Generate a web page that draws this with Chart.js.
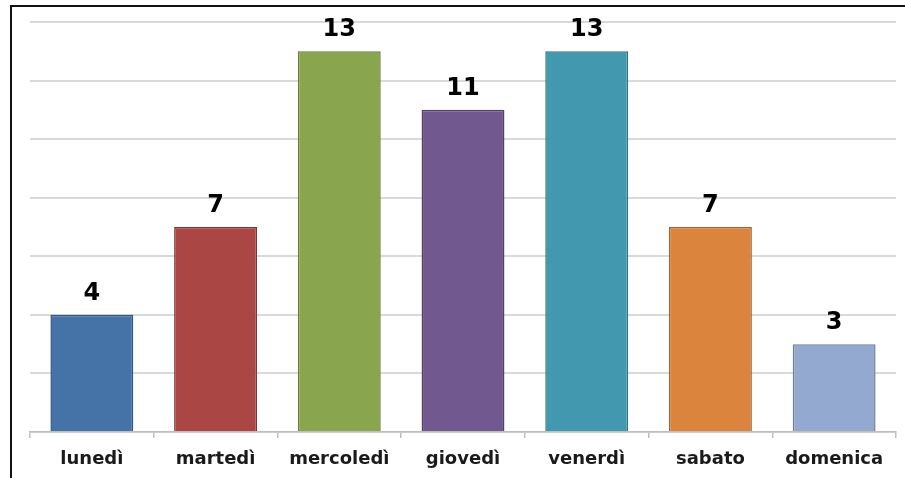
<!DOCTYPE html>
<html><head><meta charset="utf-8">
<script src="https://cdn.jsdelivr.net/npm/chart.js@4/dist/chart.umd.min.js"></script>
<style>
html,body{margin:0;padding:0;background:#fff;width:905px;height:478px;overflow:hidden;}
#frame{position:absolute;left:10px;top:5px;width:900px;height:480px;border-left:2px solid #111;border-top:2px solid #111;}
canvas{position:absolute;left:0;top:0;}
</style></head><body>
<div id="frame"></div>
<canvas id="c" width="905" height="478"></canvas>
<script>
const categories = ["lunedì","martedì","mercoledì","giovedì","venerdì","sabato","domenica"];
const values = [4,7,13,11,13,7,3];
const barColors = ["#4572A7","#AA4643","#89A54E","#71588F","#4198AF","#DB843D","#93A9CF"];
const borderColors = ["#2f5580","#7f3230","#66803a","#54416b","#2f7286","#a66229","#6f809f"];

const labelPlugin = {
  id:'vlabels',
  afterDatasetsDraw(chart){
    const ctx = chart.ctx;
    const meta = chart.getDatasetMeta(0);
    ctx.save();
    ctx.font = "bold 24px 'DejaVu Sans', sans-serif";
    ctx.fillStyle = "#000";
    ctx.textAlign = "center";
    ctx.textBaseline = "alphabetic";
    meta.data.forEach((bar,i)=>{
      ctx.fillText(String(values[i]), bar.x, bar.y - 15);
    });
    ctx.restore();
  }
};

new Chart(document.getElementById('c'), {
  type:'bar',
  data:{labels:categories, datasets:[{data:values, backgroundColor:barColors, borderColor:borderColors, borderWidth:1.5, categoryPercentage:0.67, barPercentage:1}]},
  options:{
    responsive:false, animation:false,
    layout:{padding:{left:30,right:9,top:22,bottom:0}},
    plugins:{legend:{display:false},tooltip:{enabled:false}},
    scales:{
      x:{
        grid:{drawOnChartArea:false, drawTicks:true, tickLength:6, color:'#bfbfbf', lineWidth:1.5},
        border:{display:true,color:'#bfbfbf',width:1.5},
        ticks:{color:'#1a1a1a', padding:11, font:{family:"'DejaVu Sans', sans-serif", weight:'bold', size:18}},
        afterFit(s){ s.height = 46; }
      },
      y:{
        min:0,max:14,
        ticks:{display:false, stepSize:2},
        grid:{color:'#d9d9d9', lineWidth:2, drawTicks:false},
        border:{display:false},
        afterFit(s){ s.width = 0; }
      }
    }
  },
  plugins:[labelPlugin]
});
</script>
</body></html>
